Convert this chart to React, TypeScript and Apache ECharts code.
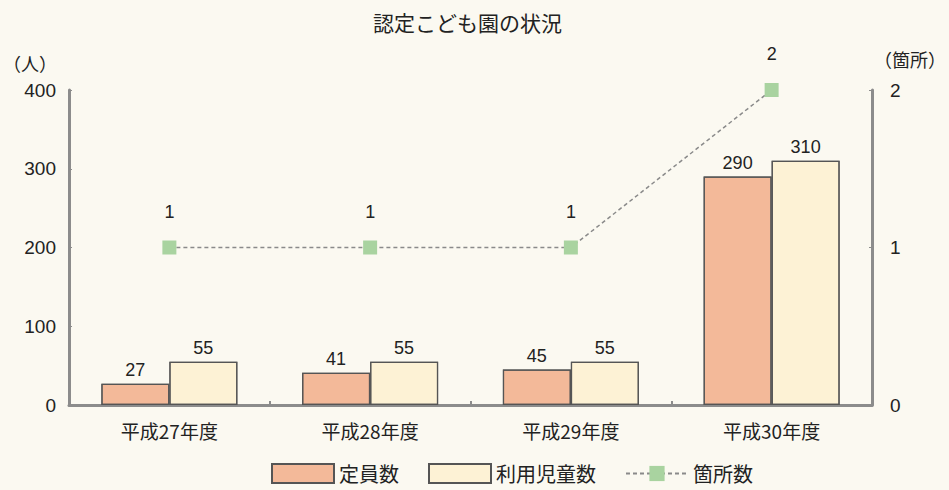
import React, { useEffect, useRef } from "react";
import * as echarts from "echarts";

const categories = ["平成27年度", "平成28年度", "平成29年度", "平成30年度"];
const capacity = [27, 41, 45, 290];
const children = [55, 55, 55, 310];
const facilities = [1, 1, 1, 2];
const leftTicks = { min: 0, max: 400, interval: 100 };
const rightTicks = { min: 0, max: 2, interval: 1 };

const FONT = "'Liberation Sans', 'Noto Sans CJK JP', sans-serif";
const CJK = "'Noto Sans CJK JP', 'Noto Sans', sans-serif";

export default function App() {
  const ref = useRef<HTMLDivElement>(null);
  useEffect(() => {
    document.body.style.margin = "0";
    const chart = echarts.init(ref.current!, null, { renderer: "svg" });
    const axisLine = { show: true, lineStyle: { color: "#8c8c8c", width: 3 } };
    chart.setOption({
      animation: false,
      backgroundColor: "#fbf9f1",
      textStyle: { fontFamily: FONT },
      aria: { enabled: true, decal: { show: true } },
      title: {
        text: "認定こども園の状況",
        left: 368,
        top: 6,
        textStyle: { fontSize: 21, fontWeight: "normal", color: "#222", fontFamily: CJK },
      },
      legend: {
        bottom: 1,
        left: 266,
        itemWidth: 62,
        itemHeight: 19,
        itemGap: 29,
        textStyle: { fontSize: 20, color: "#222", fontFamily: CJK },
        data: [
          { name: "定員数", icon: "rect" },
          { name: "利用児童数", icon: "rect" },
          { name: "箇所数" },
        ],
      },
      grid: { left: 69, right: 67, top: 90, bottom: 85 },
      xAxis: {
        type: "category",
        data: categories,
        axisLine,
        axisTick: { show: true, inside: true, length: 4, lineStyle: { color: "#8c8c8c", width: 2 } },
        axisLabel: { fontSize: 19, color: "#222", margin: 16, fontFamily: CJK },
      },
      yAxis: [
        {
          type: "value",
          ...leftTicks,
          name: "（人）",
          nameLocation: "end",
          nameGap: 18,
          nameTextStyle: { fontSize: 18, color: "#222", align: "right", padding: [0, 12, 0, 0], fontFamily: CJK },
          axisLine,
          axisTick: { show: true, inside: true, length: 3, lineStyle: { color: "#8c8c8c" } },
          axisLabel: { fontSize: 19, color: "#222", margin: 13 },
          splitLine: { show: false },
        },
        {
          type: "value",
          ...rightTicks,
          name: "（箇所）",
          nameLocation: "end",
          nameGap: 22,
          nameTextStyle: { fontSize: 18, color: "#222", align: "left", padding: [0, 0, 0, 2], fontFamily: CJK },
          axisLine,
          axisTick: { show: true, inside: true, length: 3, lineStyle: { color: "#8c8c8c" } },
          axisLabel: { fontSize: 19, color: "#222", margin: 18 },
          splitLine: { show: false },
        },
      ],
      series: [
        {
          name: "定員数",
          type: "bar",
          data: capacity,
          barWidth: 68,
          barGap: "0%",
          itemStyle: {
            color: "#f3b999",
            borderColor: "#555",
            borderWidth: 1.2,
            decal: {
              symbol: "circle",
              symbolSize: 0.35,
              color: "rgba(255,255,255,0.75)",
              dashArrayX: [[1, 0], [0, 1, 1, 0]],
              dashArrayY: [3, 8],
            },
          },
          label: { show: true, position: "top", fontSize: 18, color: "#222", distance: 5 },
        },
        {
          name: "利用児童数",
          type: "bar",
          data: children,
          barWidth: 68,
          itemStyle: {
            color: "#fdf2d5",
            borderColor: "#555",
            borderWidth: 1.2,
            decal: {
              symbol: "circle",
              symbolSize: 0.6,
              color: "rgba(210,170,100,0.55)",
              dashArrayX: [[1, 0], [0, 1, 1, 0]],
              dashArrayY: [2, 3],
            },
          },
          label: { show: true, position: "top", fontSize: 18, color: "#222", distance: 5 },
        },
        {
          name: "箇所数",
          type: "line",
          yAxisIndex: 1,
          data: facilities,
          symbol: "rect",
          symbolSize: 14,
          itemStyle: { color: "#a9d3a0", decal: { color: "rgba(0,0,0,0)" } },
          lineStyle: { color: "#8a8a8a", width: 1.5, type: [4, 3] },
          label: { show: true, position: "top", distance: 20, fontSize: 18, color: "#222" },
        },
      ],
    });
    return () => chart.dispose();
  }, []);
  return <div ref={ref} style={{ width: 949, height: 490 }} />;
}
